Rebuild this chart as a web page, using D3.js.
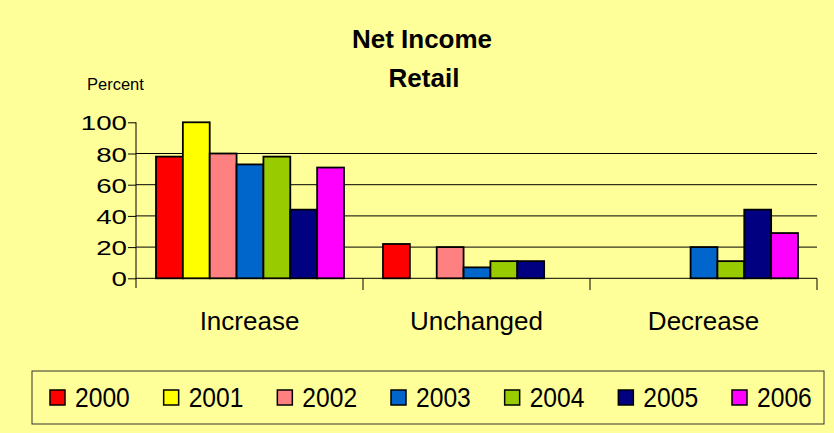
<!DOCTYPE html>
<html>
<head>
<meta charset="utf-8">
<script src="https://cdn.jsdelivr.net/npm/d3@7"></script>
<style>
  html, body { margin: 0; padding: 0; background: #FFFF99; }
  text { font-family: "Liberation Sans", Arial, sans-serif; fill: #000; }
</style>
</head>
<body>
<div id="chart"></div>
<script>
const categories = ["Increase", "Unchanged", "Decrease"];
const years = ["2000", "2001", "2002", "2003", "2004", "2005", "2006"];
const colors = ["#FF0000", "#FFFF00", "#FF8080", "#0066CC", "#99CC00", "#000080", "#FF00FF"];
// percent per year, in category order
const values = {
  "2000": [78, 22, 0],
  "2001": [100, 0, 0],
  "2002": [80, 20, 0],
  "2003": [73, 7, 20],
  "2004": [78, 11, 11],
  "2005": [44, 11, 44],
  "2006": [71, 0, 29]
};
const yTicks = [0, 20, 40, 60, 80, 100];

const width = 834, height = 433;

const svg = d3.select("#chart").append("svg")
  .attr("width", width)
  .attr("height", height);

svg.append("rect")
  .attr("width", width)
  .attr("height", height)
  .attr("fill", "#FFFF99");

const x0 = d3.scaleBand().domain(categories).range([136, 817]);
const x1 = d3.scaleBand().domain(years).range([20, 208]);
const y = d3.scaleLinear().domain([0, 100]).range([278.3, 122.3]);
const color = d3.scaleOrdinal().domain(years).range(colors);

// title
svg.append("text")
  .attr("x", 422).attr("y", 48.3)
  .attr("text-anchor", "middle")
  .attr("font-size", "26px")
  .attr("font-weight", "bold")
  .text("Net Income");
svg.append("text")
  .attr("x", 424).attr("y", 86.7)
  .attr("text-anchor", "middle")
  .attr("font-size", "26px")
  .attr("font-weight", "bold")
  .text("Retail");

svg.append("text")
  .attr("x", 87).attr("y", 90)
  .attr("font-size", "16.5px")
  .text("Percent");

// gridlines
svg.append("g")
  .selectAll("line")
  .data(yTicks.filter(t => t > 0 && t < 100))
  .enter().append("line")
  .attr("x1", 136).attr("x2", 817)
  .attr("y1", d => y(d)).attr("y2", d => y(d))
  .attr("stroke", "#000")
  .attr("stroke-width", 1);

// y axis
const yAxis = svg.append("g")
  .attr("transform", "translate(136,0)")
  .call(d3.axisLeft(y).tickValues(yTicks).tickSize(8).tickPadding(3));
yAxis.select(".domain").remove();
yAxis.selectAll(".tick line").attr("stroke", "#000");
yAxis.selectAll(".tick text")
  .attr("font-size", "21px")
  .attr("font-family", "Liberation Sans, Arial, sans-serif")
  .attr("fill", "#000")
  .attr("dy", "0.36em")
  .attr("transform", "scale(1.32,1)")
  .attr("x", -9 / 1.32);
svg.append("line")
  .attr("x1", 136).attr("x2", 136)
  .attr("y1", y(100)).attr("y2", 288)
  .attr("stroke", "#000");

// x axis
svg.append("line")
  .attr("x1", 136).attr("x2", 817)
  .attr("y1", y(0)).attr("y2", y(0))
  .attr("stroke", "#000");
svg.append("g")
  .selectAll("line")
  .data(categories.slice(1).map(c => x0(c)).concat([x0.range()[1]]))
  .enter().append("line")
  .attr("x1", d => d).attr("x2", d => d)
  .attr("y1", y(0)).attr("y2", 290)
  .attr("stroke", "#000");

svg.append("g")
  .selectAll("text")
  .data(categories)
  .enter().append("text")
  .attr("x", d => x0(d) + x0.bandwidth() / 2)
  .attr("y", 330)
  .attr("text-anchor", "middle")
  .attr("font-size", "26px")
  .text(d => d);

// bars
const group = svg.append("g")
  .selectAll("g")
  .data(categories)
  .enter().append("g")
  .attr("transform", d => `translate(${x0(d)},0)`);

group.selectAll("rect")
  .data((c, ci) => years.map(yr => ({ year: yr, value: values[yr][ci] })).filter(d => d.value > 0))
  .enter().append("rect")
  .attr("x", d => x1(d.year))
  .attr("y", d => y(d.value))
  .attr("width", x1.bandwidth())
  .attr("height", d => y(0) - y(d.value))
  .attr("fill", d => color(d.year))
  .attr("stroke", "#000")
  .attr("stroke-width", 1.8);

// legend
svg.append("rect")
  .attr("x", 32).attr("y", 371)
  .attr("width", 792).attr("height", 53)
  .attr("fill", "none")
  .attr("stroke", "#333")
  .attr("stroke-width", 1);

const lx = d3.scaleLinear().domain([0, years.length - 1]).range([50, 732]);
const legend = svg.append("g")
  .selectAll("g")
  .data(years)
  .enter().append("g")
  .attr("transform", (d, i) => `translate(${lx(i)},390)`);

legend.append("rect")
  .attr("width", 15).attr("height", 15)
  .attr("fill", d => color(d))
  .attr("stroke", "#000")
  .attr("stroke-width", 1.5);

legend.append("text")
  .attr("transform", "translate(25,16.7) scale(0.88,1)")
  .attr("font-size", "28px")
  .text(d => d);
</script>
</body>
</html>
